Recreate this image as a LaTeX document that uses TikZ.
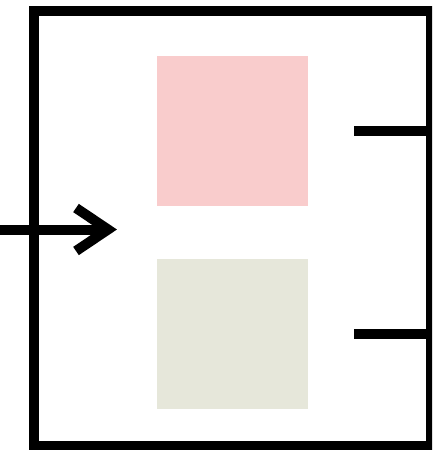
\documentclass[tikz,border=0pt]{standalone}
\definecolor{blockpink}{RGB}{249,204,204}
\definecolor{blocksage}{RGB}{230,231,218}
\begin{document}
\begin{tikzpicture}[x=1pt,y=-1pt,
  frame/.style={draw=black,line width=10pt,line join=miter},
  wire/.style={draw=black,line width=10pt,line cap=butt},
  block/.style={draw=none,minimum width=151pt,minimum height=150pt,inner sep=0pt,outer sep=0pt,anchor=north west}]
  \useasboundingbox (0,0) rectangle (432,450);
  \begin{scope}
    \clip (0,0) rectangle (432,450);
    % outer housing
    \coordinate (boxNW) at (34,11);
    \coordinate (boxSE) at (431,446);
    \draw[frame] (boxNW) rectangle (boxSE);
    % inner blocks
    \node[block,fill=blockpink] (top) at (157,56) {};
    \node[block,fill=blocksage] (bottom) at (157,259) {};
    % input arrow
    \coordinate (in) at (0,229.5);
    \coordinate (tip) at (108,229.5);
    \coordinate (armA) at (76,208);
    \coordinate (armB) at (76,251);
    \draw[wire] (in) -- (tip);
    \draw[wire,line join=miter] (armA) -- (tip) -- (armB);
    % output stubs
    \coordinate (outA) at (354,130.5);
    \coordinate (outB) at (354,333.5);
    \draw[wire] (outA) -- (outA -| boxSE);
    \draw[wire] (outB) -- (outB -| boxSE);
  \end{scope}
\end{tikzpicture}
\end{document}
